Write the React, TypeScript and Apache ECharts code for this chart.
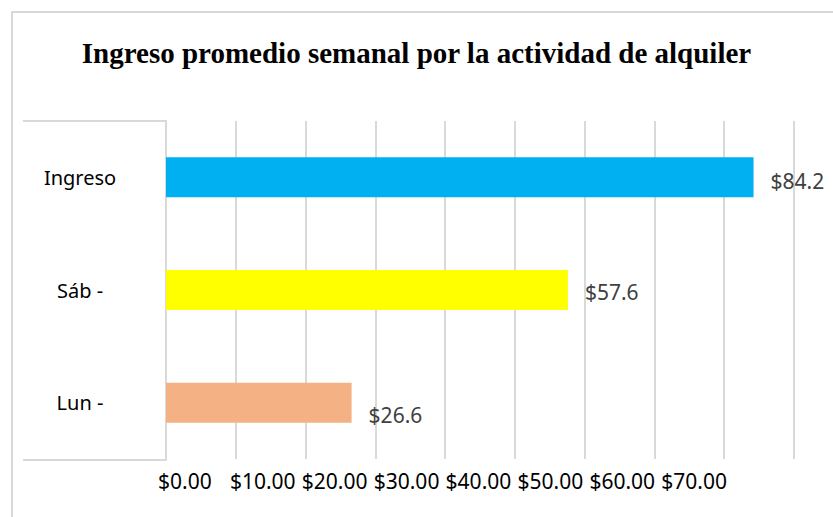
import React, { useEffect, useRef } from "react";
import * as echarts from "echarts";

const chartTitle = "Ingreso promedio semanal por la actividad de alquiler";
const categories = ["Ingreso", "Sáb -", "Lun -"];
const values = [84.2, 57.6, 26.6];
const barColors = ["#00B0F0", "#FFFF00", "#F4B183"];
const tickLabels = ["$0.00", "$10.00", "$20.00", "$30.00", "$40.00", "$50.00", "$60.00", "$70.00"];
const axisMin = 0;
const axisMax = 90;
const axisStep = 10;

export default function App() {
  const ref = useRef<HTMLDivElement>(null);
  useEffect(() => {
    const chart = echarts.init(ref.current as HTMLDivElement, null, { renderer: "svg" });
    const labelShift = [4, 2, 12];
    chart.setOption({
      animation: false,
      backgroundColor: "#ffffff",
      title: {
        text: chartTitle,
        left: "center",
        top: 33,
        textStyle: { fontFamily: "Liberation Serif", fontWeight: "bold", fontSize: 29, color: "#000000" },
      },
      grid: [
        { left: 166, right: 39, top: 121, bottom: 58 },
        { left: 158, width: 503.3, top: 459, height: 1 },
      ],
      xAxis: [
        {
          type: "value",
          gridIndex: 0,
          min: axisMin,
          max: axisMax,
          interval: axisStep,
          axisLabel: { show: false },
          axisLine: { show: false },
          axisTick: { show: false },
          splitLine: { show: true, lineStyle: { color: "#D9D9D9", width: 2 } },
        },
        {
          type: "category",
          gridIndex: 1,
          data: tickLabels,
          boundaryGap: false,
          axisLine: { show: false },
          axisTick: { show: false },
          splitLine: { show: false },
          axisLabel: {
            interval: 0,
            align: "left",
            margin: 10,
            fontFamily: "Noto Sans",
            fontSize: 21,
            color: "#000000",
          },
        },
      ],
      yAxis: [
        {
          type: "category",
          gridIndex: 0,
          data: categories,
          inverse: true,
          axisLine: { show: false },
          axisTick: { show: false },
          splitLine: { show: false },
          axisLabel: { align: "center", margin: 86, fontFamily: "Noto Sans", fontSize: 20, color: "#000000" },
        },
        { type: "value", gridIndex: 1, show: false, splitLine: { show: false } },
      ],
      series: [
        {
          type: "bar",
          xAxisIndex: 0,
          yAxisIndex: 0,
          barWidth: 40,
          data: values.map((v, i) => ({
            value: v,
            itemStyle: { color: barColors[i] },
            label: { offset: [0, labelShift[i]] },
          })),
          label: {
            show: true,
            position: "right",
            distance: 17,
            formatter: (p: any) => "$" + Number(p.value).toFixed(1),
            fontFamily: "Noto Sans",
            fontSize: 21,
            color: "#404040",
          },
        },
      ],
      graphic: [
        {
          type: "rect",
          z: -1,
          shape: { x: 12, y: 12, width: 900, height: 600 },
          style: { fill: "none", stroke: "#D9D9D9", lineWidth: 2 },
        },
        {
          type: "polyline",
          shape: { points: [[23, 121], [166, 121], [166, 460], [23, 460]] },
          style: { fill: "none", stroke: "#D9D9D9", lineWidth: 2 },
        },
      ],
    });
    return () => chart.dispose();
  }, []);
  return <div ref={ref} style={{ position: "absolute", left: 0, top: 0, width: 833, height: 517 }} />;
}
